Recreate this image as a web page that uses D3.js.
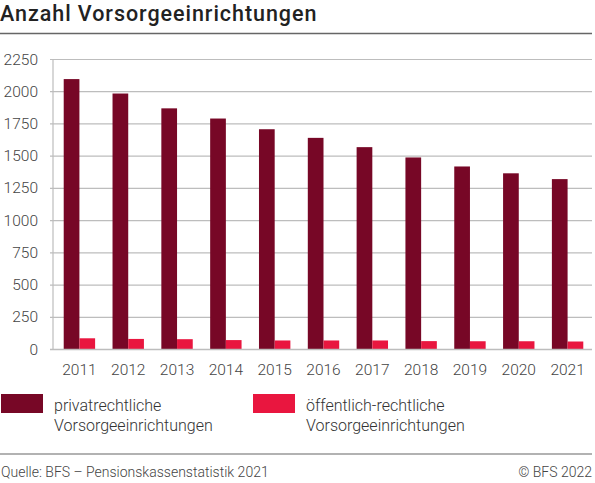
<!DOCTYPE html>
<html>
<head>
<meta charset="utf-8">
<script src="https://cdn.jsdelivr.net/npm/d3@7"></script>
<style>
  body { margin: 0; background: #fff; }
  svg { font-family: Roboto, "Noto Sans", sans-serif; }
</style>
</head>
<body>
<svg id="chart"></svg>
<script>
// data
const years = ["2011", "2012", "2013", "2014", "2015", "2016", "2017", "2018", "2019", "2020", "2021"];
const privat = [2098, 1986, 1871, 1792, 1709, 1642, 1570, 1490, 1420, 1367, 1322];
const oeffentlich = [87, 82, 80, 73, 70, 70, 70, 65, 64, 64, 62];
const yTicks = [0, 250, 500, 750, 1000, 1250, 1500, 1750, 2000, 2250];
const seriesNames = ["privatrechtliche Vorsorgeeinrichtungen", "öffentlich-rechtliche Vorsorgeeinrichtungen"];
const colors = ["#770726", "#e9163f"];

const svgWidth = 595;
const svgHeight = 483;
const svg = d3.select("#chart").attr("width", svgWidth).attr("height", svgHeight);

// Title and rule under it
svg.append("text")
  .attr("x", 0)
  .attr("y", 20.5)
  .style("font-size", "21.5px")
  .style("font-weight", 500)
  .style("letter-spacing", "0.95px")
  .attr("fill", "#222")
  .text("Anzahl Vorsorgeeinrichtungen");

svg.append("line")
  .attr("x1", 0).attr("x2", 592)
  .attr("y1", 33.5).attr("y2", 33.5)
  .attr("stroke", "#666").attr("stroke-width", 1.5);

// Scales
const xScale = d3.scaleBand().domain(years).range([55, 592]);
const yScale = d3.scaleLinear().domain([0, 2250]).range([349.5, 59.5]);
const inner = d3.scaleBand().domain([0, 1]).range([0, 31.4]);

// Grid lines
svg.append("g")
  .selectAll("line")
  .data(yTicks)
  .join("line")
  .attr("x1", 50).attr("x2", 592)
  .attr("y1", (d) => yScale(d)).attr("y2", (d) => yScale(d))
  .attr("stroke", "#bdbdbd").attr("stroke-width", 1.2);

// y axis line
svg.append("line")
  .attr("x1", 53).attr("x2", 53)
  .attr("y1", yScale(2250)).attr("y2", yScale(0))
  .attr("stroke", "#bdbdbd").attr("stroke-width", 1.2);

// y tick labels
svg.append("g")
  .selectAll("text")
  .data(yTicks)
  .join("text")
  .attr("x", 38)
  .attr("y", (d) => yScale(d) + 5)
  .attr("text-anchor", "end")
  .style("font-size", "15.5px")
  .style("font-weight", 300)
  .attr("fill", "#444")
  .text((d) => d);

// Bars
const groups = svg.append("g")
  .selectAll("g")
  .data(years)
  .join("g")
  .attr("transform", (d) => `translate(${xScale(d) + xScale.bandwidth() / 2 - 15.7},0)`);

[privat, oeffentlich].forEach((series, s) => {
  groups.append("rect")
    .attr("x", inner(s))
    .attr("width", inner.bandwidth())
    .attr("y", (d, i) => yScale(series[i]))
    .attr("height", (d, i) => yScale(0) - yScale(series[i]))
    .attr("fill", colors[s]);
});

// bottom axis line
svg.append("line")
  .attr("x1", 50).attr("x2", 592)
  .attr("y1", yScale(0)).attr("y2", yScale(0))
  .attr("stroke", "#bdbdbd").attr("stroke-width", 1.5);

// x labels
svg.append("g")
  .selectAll("text")
  .data(years)
  .join("text")
  .attr("x", (d) => xScale(d) + xScale.bandwidth() / 2)
  .attr("y", 374.5)
  .attr("text-anchor", "middle")
  .style("font-size", "15.5px")
  .style("font-weight", 300)
  .attr("fill", "#444")
  .text((d) => d);

// Legend
const legendX = [1, 253];
seriesNames.forEach((name, s) => {
  const lg = svg.append("g").attr("transform", `translate(${legendX[s]},394)`);
  lg.append("rect")
    .attr("width", 42).attr("height", 19)
    .attr("fill", colors[s]);
  const words = name.split(" ");
  lg.append("text")
    .attr("x", 53)
    .style("font-size", "16px")
    .style("font-weight", 300)
    .attr("fill", "#333")
    .selectAll("tspan")
    .data(words)
    .join("tspan")
    .attr("x", 53)
    .attr("y", (d, i) => 16.5 + i * 20)
    .text((d) => d);
});

// Footer
svg.append("line")
  .attr("x1", 0).attr("x2", 592)
  .attr("y1", 454).attr("y2", 454)
  .attr("stroke", "#666").attr("stroke-width", 1.2);

svg.append("text")
  .attr("x", 1).attr("y", 477)
  .style("font-size", "14px")
  .style("font-weight", 300)
  .attr("fill", "#444")
  .text("Quelle: BFS – Pensionskassenstatistik 2021");

svg.append("text")
  .attr("x", 592).attr("y", 477)
  .attr("text-anchor", "end")
  .style("font-size", "14px")
  .style("font-weight", 300)
  .attr("fill", "#444")
  .text("© BFS 2022");
</script>
</body>
</html>
